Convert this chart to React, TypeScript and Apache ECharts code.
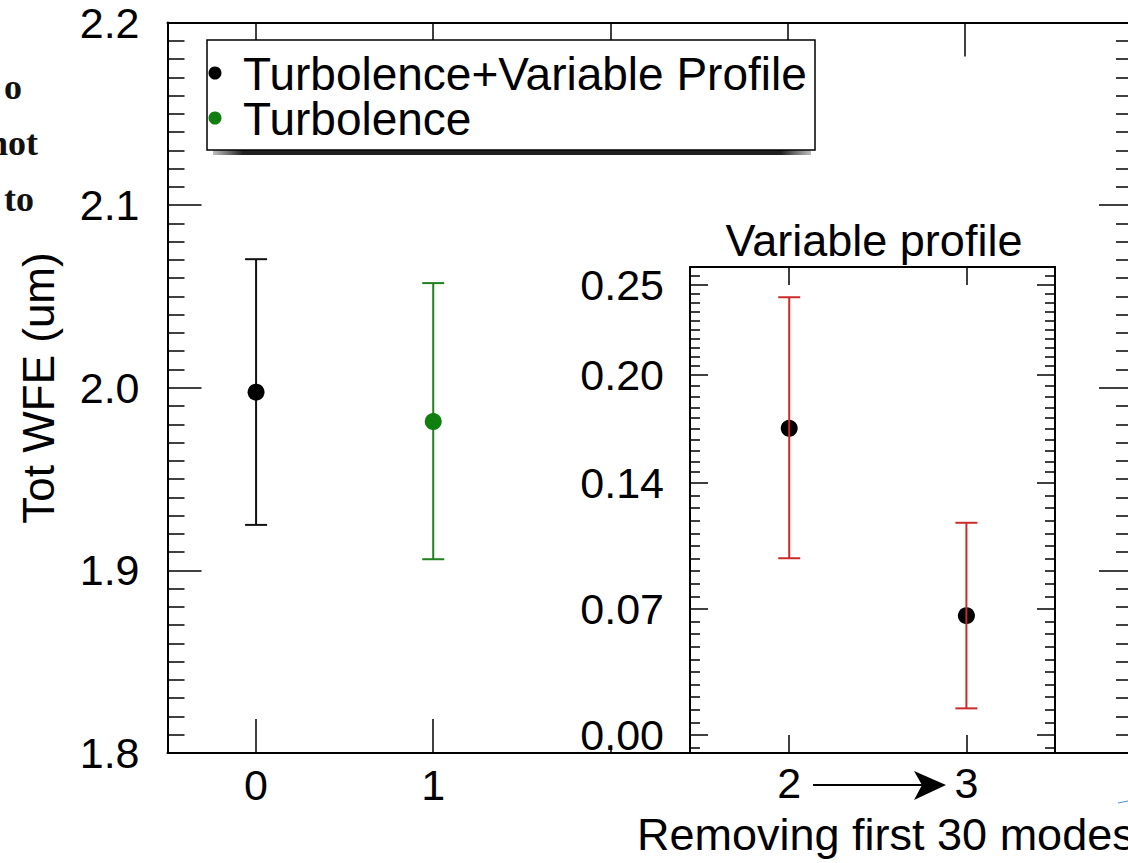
import React, { useEffect, useRef } from "react";
import * as echarts from "echarts";

// ---- data ----
const mainX = [0, 1];
const mainMean = [1.9976, 1.9815];
const mainLow = [1.9249, 1.9061];
const mainHigh = [2.0704, 2.0573];
const mainDotColors = ["#000000", "#0f7f0f"];
const mainBarColors = ["#111111", "#1f801f"];

const insetX = [2, 3];
const insetMean = [0.1704, 0.0663];
const insetLow = [0.0982, 0.0148];
const insetHigh = [0.2432, 0.1179];

// ---- ticks / labels ----
const mainXLabels = [0, 1];
const mainXTicksBottom = [0, 1];
const mainXTicksBottomShort = [2];
const mainXTicksTop = [0, 1, 2, 3, 4];
const insetYTicks = [0, 0.07, 0.14, 0.2, 0.25];
const insetYMinorEdge = [-0.007, 0.255];
const insetXTicks = [2, 3];
const legendNames = ["Turbolence+Variable Profile", "Turbolence"];
const insetTitle = "Variable profile";
const xTitle = "Removing first 30 modes";
const yTitle = "Tot WFE (um)";
const sideFragments = ["o", "not", "to"];

const FONT = "'Liberation Sans', Arial, Helvetica, sans-serif";
const SERIF = "'Liberation Serif', 'Times New Roman', serif";

function buildMinor(major: number[], extra: number[]): number[] {
  const out: number[] = [];
  for (let i = 0; i < major.length - 1; i++) {
    const a = major[i];
    const b = major[i + 1];
    for (let k = 1; k < 10; k++) out.push(a + ((b - a) * k) / 10);
  }
  return out.concat(extra);
}

const errRender = (colors: string[]) => (params: any, api: any) => {
  const x = api.value(0);
  const lo = api.value(1);
  const hi = api.value(2);
  const p1 = api.coord([x, hi]);
  const p2 = api.coord([x, lo]);
  const c = colors[params.dataIndex % colors.length];
  const hw = 11;
  const st = { stroke: c, lineWidth: 2 };
  return {
    type: "group",
    children: [
      { type: "line", shape: { x1: p1[0], y1: p1[1], x2: p2[0], y2: p2[1] }, style: st },
      { type: "line", shape: { x1: p1[0] - hw, y1: p1[1], x2: p1[0] + hw, y2: p1[1] }, style: st },
      { type: "line", shape: { x1: p2[0] - hw, y1: p2[1], x2: p2[0] + hw, y2: p2[1] }, style: st },
    ],
  };
};

export default function App() {
  const ref = useRef<HTMLDivElement>(null);

  useEffect(() => {
    if (!ref.current) return;
    const chart = echarts.init(ref.current, null, { renderer: "svg" });
    const insetMinor = buildMinor(insetYTicks, insetYMinorEdge);

    const lineStyle = { color: "#000", width: 2 };
    const tickStyle = { color: "#000", width: 1.5 };
    const labelBase = { color: "#000", fontFamily: FONT, fontSize: 43 };

    const mainXBase = {
      type: "value",
      gridIndex: 0,
      min: -0.5,
      max: 4.95,
      splitLine: { show: false },
    };
    const insetXBase = {
      type: "value",
      gridIndex: 1,
      min: 1.44,
      max: 3.5,
      splitLine: { show: false },
    };
    const mainYBase = {
      type: "value",
      gridIndex: 0,
      min: 1.8,
      max: 2.2,
      interval: 0.1,
      splitLine: { show: false },
      axisLine: { show: true, onZero: false, lineStyle },
      axisTick: { show: true, inside: true, length: 34, lineStyle: tickStyle },
      minorTick: { show: true, splitNumber: 10, length: 17, lineStyle: tickStyle },
    };
    const insetYBase = {
      type: "value",
      gridIndex: 1,
      min: -0.01,
      max: 0.26,
      splitLine: { show: false },
    };

    const textStyle = (text: string, font: string, align: string) => ({
      text,
      font,
      fill: "#000",
      align,
      textAlign: align,
      verticalAlign: "middle",
      textVerticalAlign: "middle",
    });

    const option: any = {
      animation: false,
      backgroundColor: "#ffffff",
      grid: [
        { left: 167.5, top: 22.5, width: 965.5, height: 730.5, containLabel: false, outerBoundsMode: "none" },
        { left: 690, top: 267, width: 365, height: 486, containLabel: false, outerBoundsMode: "none" },
      ],
      xAxis: [
        {
          ...mainXBase,
          position: "bottom",
          axisLine: { show: true, onZero: false, lineStyle },
          axisTick: { show: true, inside: true, length: 34, customValues: mainXTicksBottom, lineStyle: tickStyle },
          axisLabel: { ...labelBase, margin: 10, customValues: mainXLabels, formatter: (v: number) => String(v) },
        },
        {
          ...mainXBase,
          position: "top",
          axisLine: { show: true, onZero: false, lineStyle },
          axisTick: { show: true, inside: true, length: 34, customValues: mainXTicksTop, lineStyle: tickStyle },
          axisLabel: { show: false },
        },
        {
          ...mainXBase,
          position: "bottom",
          axisLine: { show: false, onZero: false },
          axisTick: { show: true, inside: true, length: 8, customValues: mainXTicksBottomShort, lineStyle: tickStyle },
          axisLabel: { show: false },
        },
        {
          ...insetXBase,
          position: "bottom",
          axisLine: { show: true, onZero: false, lineStyle },
          axisTick: { show: true, inside: true, length: 18, customValues: insetXTicks, lineStyle: tickStyle },
          axisLabel: { ...labelBase, margin: 8, customValues: insetXTicks, formatter: (v: number) => String(v) },
        },
        {
          ...insetXBase,
          position: "top",
          axisLine: { show: true, onZero: false, lineStyle },
          axisTick: { show: true, inside: true, length: 18, customValues: insetXTicks, lineStyle: tickStyle },
          axisLabel: { show: false },
        },
      ],
      yAxis: [
        {
          ...mainYBase,
          position: "left",
          axisLabel: { ...labelBase, margin: 28, formatter: (v: number) => v.toFixed(1) },
        },
        {
          ...mainYBase,
          position: "right",
          axisLabel: { show: false },
        },
        {
          ...insetYBase,
          position: "left",
          axisLine: { show: true, onZero: false, lineStyle },
          axisTick: { show: true, inside: true, length: 18, customValues: insetYTicks, lineStyle: tickStyle },
          axisLabel: { ...labelBase, margin: 26, customValues: insetYTicks, formatter: (v: number) => v.toFixed(2) },
        },
        {
          ...insetYBase,
          position: "left",
          axisLine: { show: false, onZero: false },
          axisTick: { show: true, inside: true, length: 10, customValues: insetMinor, lineStyle: tickStyle },
          axisLabel: { show: false },
        },
        {
          ...insetYBase,
          position: "right",
          axisLine: { show: true, onZero: false, lineStyle },
          axisTick: { show: true, inside: true, length: 18, customValues: insetYTicks, lineStyle: tickStyle },
          axisLabel: { show: false },
        },
        {
          ...insetYBase,
          position: "right",
          axisLine: { show: false, onZero: false },
          axisTick: { show: true, inside: true, length: 10, customValues: insetMinor, lineStyle: tickStyle },
          axisLabel: { show: false },
        },
      ],
      series: [
        {
          type: "custom",
          name: "main-err",
          xAxisIndex: 0,
          yAxisIndex: 0,
          z: 2,
          clip: false,
          encode: { x: 0, y: [1, 2] },
          renderItem: errRender(mainBarColors),
          data: mainX.map((x, i) => [x, mainLow[i], mainHigh[i]]),
        },
        {
          type: "scatter",
          name: "main-points",
          xAxisIndex: 0,
          yAxisIndex: 0,
          z: 3,
          symbol: "circle",
          symbolSize: 17,
          data: mainX.map((x, i) => ({ value: [x, mainMean[i]], itemStyle: { color: mainDotColors[i], opacity: 1 } })),
        },
        {
          type: "scatter",
          name: "inset-points",
          xAxisIndex: 3,
          yAxisIndex: 2,
          z: 3,
          symbol: "circle",
          symbolSize: 17,
          itemStyle: { color: "#000", opacity: 1 },
          data: insetX.map((x, i) => [x, insetMean[i]]),
        },
        {
          type: "custom",
          name: "inset-err",
          xAxisIndex: 3,
          yAxisIndex: 2,
          z: 4,
          clip: false,
          encode: { x: 0, y: [1, 2] },
          renderItem: errRender(["#cc2b2b"]),
          data: insetX.map((x, i) => [x, insetLow[i], insetHigh[i]]),
        },
      ],
      graphic: [
        // legend
        {
          type: "rect",
          z: 100,
          shape: { x: 213, y: 150, width: 598, height: 5 },
          style: {
            fill: new echarts.graphic.LinearGradient(0, 0, 1, 0, [
              { offset: 0, color: "rgba(40,40,40,0.3)" },
              { offset: 0.05, color: "rgba(20,20,20,0.95)" },
              { offset: 0.95, color: "rgba(20,20,20,0.95)" },
              { offset: 1, color: "rgba(40,40,40,0.3)" },
            ]),
          },
        },
        {
          type: "rect",
          z: 101,
          shape: { x: 207, y: 40, width: 608, height: 110 },
          style: { fill: "#ffffff", stroke: "#000000", lineWidth: 1.5 },
        },
        { type: "circle", z: 102, shape: { cx: 215, cy: 73, r: 6.5 }, style: { fill: "#000000" } },
        { type: "circle", z: 102, shape: { cx: 215, cy: 118, r: 6.5 }, style: { fill: "#0f7f0f" } },
        { type: "text", z: 102, x: 243, y: 74, style: textStyle(legendNames[0], `46px ${FONT}`, "left") },
        { type: "text", z: 102, x: 243, y: 119, style: textStyle(legendNames[1], `46px ${FONT}`, "left") },
        // inset title
        { type: "text", z: 50, x: 874, y: 240, style: textStyle(insetTitle, `45px ${FONT}`, "center") },
        // arrow between 2 and 3
        {
          type: "line",
          z: 50,
          shape: { x1: 813, y1: 785, x2: 922, y2: 785 },
          style: { stroke: "#000", lineWidth: 2 },
        },
        {
          type: "polygon",
          z: 50,
          shape: { points: [[914, 771], [946, 785], [914, 800], [922, 785]] },
          style: { fill: "#000" },
        },
        // x title
        { type: "text", z: 50, x: 637, y: 834, style: textStyle(xTitle, `45px ${FONT}`, "left") },
        // y title
        {
          type: "text",
          z: 50,
          x: 38,
          y: 388,
          rotation: Math.PI / 2,
          style: textStyle(yTitle, `44px ${FONT}`, "center"),
        },
        // cropped side text fragments
        ...sideFragments.map((t, i) => ({
          type: "text",
          z: 50,
          x: [22, 38, 34][i],
          y: [87, 143, 199][i],
          style: { ...textStyle(t, `bold 36px ${SERIF}`, "right"), fill: "#111" },
        })),
        // small blue stroke artifact
        {
          type: "line",
          z: 50,
          shape: { x1: 1118, y1: 803, x2: 1128, y2: 801 },
          style: { stroke: "#4a90d9", lineWidth: 1 },
        },
      ],
    };

    chart.setOption(option);
    return () => chart.dispose();
  }, []);

  return (
    <div
      ref={ref}
      style={{ position: "absolute", left: 0, top: 0, width: 1128, height: 863, background: "#fff" }}
    />
  );
}
